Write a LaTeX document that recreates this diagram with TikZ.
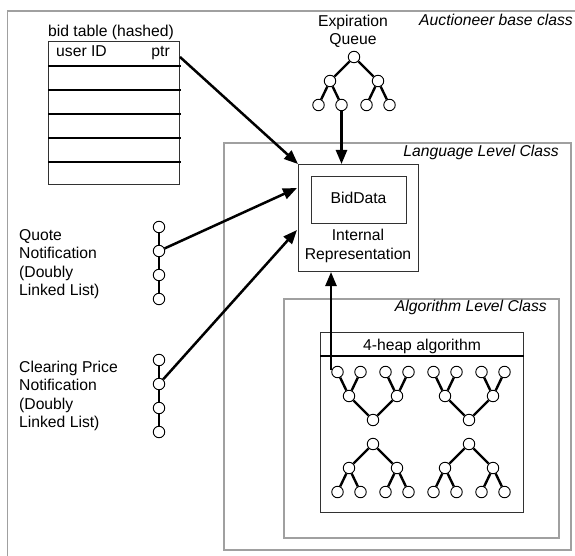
\documentclass[tikz,border=0pt]{standalone}
\usepackage{fontspec}
\setmainfont{Liberation Sans}
\usetikzlibrary{arrows.meta,calc}
\definecolor{framegray}{RGB}{160,160,160}
\definecolor{boxgray}{RGB}{50,50,50}
\newcommand\heaptreeX[4]{%
  \node[hc] (#1r) at (#2,#3) {};
  \node[hc] (#1a) at ({#2-24},{#3+24*(#4)}) {};
  \node[hc] (#1b) at ({#2+24},{#3+24*(#4)}) {};
  \node[hc] (#1a1) at ({#2-35.5},{#3+48*(#4)}) {};
  \node[hc] (#1a2) at ({#2-12.5},{#3+48*(#4)}) {};
  \node[hc] (#1b1) at ({#2+12.5},{#3+48*(#4)}) {};
  \node[hc] (#1b2) at ({#2+35.5},{#3+48*(#4)}) {};
  \draw[edge] (#1r)--(#1a) (#1r)--(#1b) (#1a)--(#1a1) (#1a)--(#1a2) (#1b)--(#1b1) (#1b)--(#1b2);
}
\begin{document}
\begin{tikzpicture}[x=1pt,y=-1pt,
  every node/.style={font=\fontsize{15.7}{18.5}\selectfont, inner sep=0pt},
  frame/.style={draw=framegray, line width=1.5pt},
  box/.style={draw=boxgray, line width=1pt},
  hc/.style={circle, draw=black, fill=white, line width=0.9pt, minimum size=11.5pt, inner sep=0pt},
  edge/.style={line width=2.4pt},
  rowline/.style={line width=2pt},
  conn/.style={line width=2.5pt, -{Triangle[length=14pt,width=11pt]}},
  itlabel/.style={font=\fontsize{15.7}{18.5}\selectfont\itshape}
]
\useasboundingbox (0,0) rectangle (575,556);
\fill[white] (0,0) rectangle (575,556);
% frames
\draw[frame] (7.5,556) -- (7.5,11) -- (575,11);
\draw[frame] (224,143) rectangle (571,550);
\draw[frame] (284,299) rectangle (559,538);
\node[itlabel, anchor=base west] (abc) at (419,26) {Auctioneer base class};
\node[itlabel, anchor=base east] (llc) at (559,157) {Language Level Class};
\node[itlabel, anchor=base east] (alc) at (547,311) {Algorithm Level Class};
% bid table
\node[box, anchor=north west, minimum width=131pt, minimum height=143pt] (bt) at (48,41) {};
\foreach \yy in {66,90,114,138,162} \draw[rowline] (48,\yy) -- (181,\yy);
\node[anchor=base west] (btl) at (48,37) {bid table (hashed)};
\node[anchor=base west] (uid) at (56,57) {user ID};
\node[anchor=base east] (ptrl) at (170,57) {ptr};
\coordinate (ptr) at (180,57);
% expiration queue
\heaptreeX{e}{354}{57}{1}
\node[anchor=base, align=center] (eqt) at (353,45) {Expiration\\Queue};
% internal representation
\node[box, anchor=north west, minimum width=120pt, minimum height=107pt] (ir) at (298,164) {};
\node[box, anchor=north west, minimum width=95pt, minimum height=47pt] (bd) at (311,176) {};
\node[anchor=base] (bdt) at (358.5,204) {BidData};
\node[anchor=base, align=center] (irt) at (358,259) {Internal\\Representation};
% 4-heap
\node[box, anchor=north west, minimum width=203pt, minimum height=180pt] (hb) at (320,332) {};
\draw[rowline] (320,356) -- (524,356);
\node[anchor=base] (hbt) at (422,350) {4-heap algorithm};
\heaptreeX{p}{373}{420}{-1}
\heaptreeX{q}{469}{420}{-1}
\heaptreeX{s}{373}{444}{1}
\heaptreeX{t}{469}{444}{1}
% lists
\foreach \i/\yy in {1/227,2/251,3/275,4/299} \node[hc] (ql\i) at (159,\yy) {};
\draw[edge] (ql1)--(ql2) (ql2)--(ql3) (ql3)--(ql4);
\foreach \i/\yy in {1/360,2/384,3/408,4/432} \node[hc] (cl\i) at (159,\yy) {};
\draw[edge] (cl1)--(cl2) (cl2)--(cl3) (cl3)--(cl4);
\node[anchor=base west, align=left] (qt) at (19,295.5) {Quote\\Notification\\(Doubly\\Linked List)};
\node[anchor=base west, align=left] (ct) at (19,427.5) {Clearing Price\\Notification\\(Doubly\\Linked List)};
% connectors
\coordinate (irq) at (297,188);
\coordinate (irc) at (297,230);
\coordinate (hs) at (331,370);
\draw[conn] (ptr) -- (ir.north west);
\draw[conn] (ql2) -- (irq);
\draw[conn] (cl2) -- (irc);
\draw[conn] (ea2) -- (ea2 |- ir.north);
\draw[conn] (hs) -- (hs |- ir.south);
\end{tikzpicture}
\end{document}
